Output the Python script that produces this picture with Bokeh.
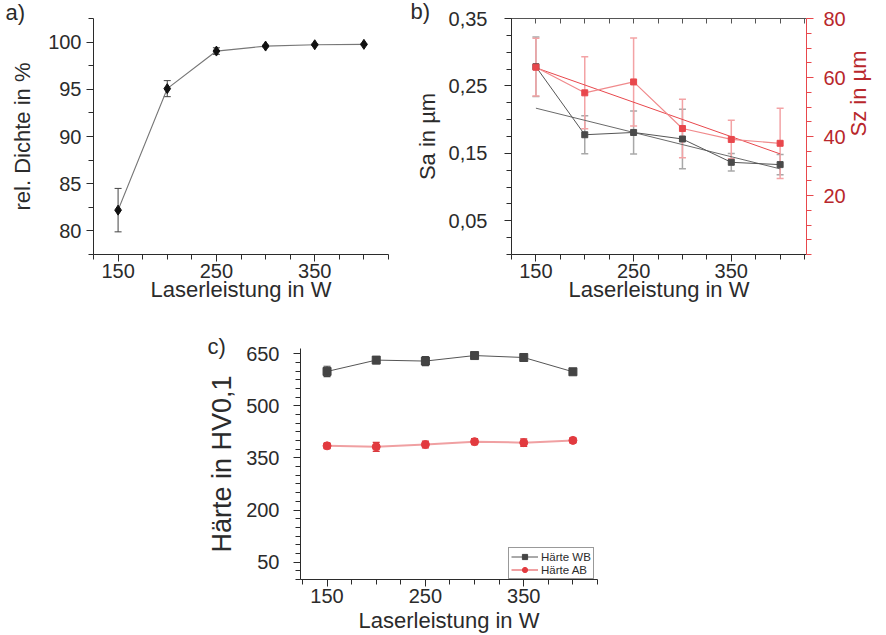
import math
from bokeh.plotting import figure
from bokeh.layouts import column, row, Spacer
from bokeh.models import (Range1d, LinearAxis, FixedTicker, CustomJSTickFormatter,
                          Whisker, TeeHead, ColumnDataSource, Title, Legend, LegendItem)
from bokeh.embed import file_html
from bokeh.resources import INLINE

FONT = "Liberation Sans"

# ---------------- data ----------------
power = [150, 200, 250, 300, 350, 400]

dichte = [82.2, 95.07, 99.05, 99.58, 99.72, 99.76]
dichte_err = [2.3, 0.85, 0.35, 0.1, 0.08, 0.05]

sa = [0.2785, 0.1776, 0.181, 0.1713, 0.1367, 0.1333]
sa_err = [0.044, 0.028, 0.032, 0.044, 0.013, 0.015]
sz = [63.5, 54.8, 58.5, 42.7, 39.0, 37.7]
sz_err = [9.8, 12.2, 14.9, 9.9, 6.5, 11.9]
fit_x = [150, 400]
sa_fit = [0.217, 0.127]
sz_fit = [63.3, 34.1]

haerte_wb = [598.9, 631.6, 628.8, 644.7, 639.1, 598.0]
haerte_wb_err = [15, 10, 13, 5, 10, 8]
haerte_ab = [384.8, 382.0, 388.5, 396.9, 394.0, 400.5]
haerte_ab_err = [8, 13, 10, 9, 11, 7]

# tick positions
x_major = [150, 250, 350]
x_minor = [125, 175, 200, 225, 275, 300, 325, 375, 400, 425]

a_major = [80, 85, 90, 95, 100]
a_minor = [77.5, 82.5, 87.5, 92.5, 97.5, 102.5]

b_major = [0.05, 0.15, 0.25, 0.35]
b_minor = [0.0, 0.025, 0.075, 0.1, 0.125, 0.175, 0.2, 0.225, 0.275, 0.3, 0.325]
bz_major = [20, 40, 60, 80]
bz_minor = [0, 5, 10, 15, 25, 30, 35, 45, 50, 55, 65, 70, 75]

c_major = [50, 200, 350, 500, 650]
c_minor = [0, 25, 75, 100, 125, 150, 175, 225, 250, 275, 300, 325, 375, 400,
           425, 450, 475, 525, 550, 575, 600, 625]

DARK = "#2b2b2b"
RED_TXT = "#B8272C"
RED_LINE = "#E8474C"
RED_LIGHT = "#F3A3A5"


def style_axis(ax, line_color=DARK, label_color=DARK):
    ax.axis_line_color = line_color
    ax.major_tick_line_color = line_color
    ax.minor_tick_line_color = line_color
    ax.major_label_text_font = FONT
    ax.major_label_text_font_size = "20px"
    ax.major_label_text_color = label_color
    ax.axis_label_text_font = FONT
    ax.axis_label_text_font_size = "22px"
    ax.axis_label_text_font_style = "normal"
    ax.axis_label_text_color = label_color
    ax.major_tick_out = 7
    ax.major_tick_in = 0
    ax.minor_tick_out = 5
    ax.minor_tick_in = 0
    ax.major_label_standoff = 2
    ax.axis_label_standoff = 2


def base_fig(w, h, xr, yr, bl, br, bt, bb, label, offset, standoff):
    title = Title(text=label, align="left", offset=offset, standoff=standoff,
                  text_font=FONT, text_font_size="22px", text_font_style="normal",
                  text_color=DARK)
    p = figure(width=w, height=h, x_range=Range1d(*xr), y_range=Range1d(*yr),
               output_backend="svg", toolbar_location=None, title=title,
               min_border_left=bl, min_border_right=br, min_border_top=bt,
               min_border_bottom=bb)
    p.xgrid.visible = False
    p.ygrid.visible = False
    p.outline_line_color = None
    p.background_fill_color = "white"
    p.border_fill_color = "white"
    p.xaxis.ticker = FixedTicker(ticks=x_major, minor_ticks=x_minor)
    p.xaxis.axis_label = "Laserleistung in W"
    style_axis(p.xaxis[0])
    style_axis(p.yaxis[0])
    return p


def whisker(p, x, y, err, color, size=8, width=1, y_range_name="default"):
    src = ColumnDataSource(dict(x=x, upper=[a + b for a, b in zip(y, err)],
                                lower=[a - b for a, b in zip(y, err)]))
    w = Whisker(base="x", upper="upper", lower="lower", source=src,
                line_color=color, line_width=width,
                upper_head=TeeHead(size=size, line_color=color, line_width=width),
                lower_head=TeeHead(size=size, line_color=color, line_width=width),
                y_range_name=y_range_name)
    p.add_layout(w)


# ---------------- panel a ----------------
pa = base_fig(400, 310, (125, 425), (77.5, 102.5), 93, 12, 18, 54, "a)", -88, -13)
pa.yaxis.ticker = FixedTicker(ticks=a_major, minor_ticks=a_minor)
pa.yaxis.axis_label = "rel. Dichte in %"
pa.yaxis.major_label_standoff = 5
pa.yaxis.axis_label_standoff = 10
pa.xaxis.axis_label_standoff = -4
whisker(pa, power, dichte, dichte_err, "#444444", size=7)
pa.line(power, dichte, line_color="#777777", line_width=1.2)
pa.scatter(power, dichte, marker="diamond", size=10, fill_color="#111111",
           line_color="#111111")

# ---------------- panel b ----------------
pb = base_fig(486, 310, (125, 427), (0, 0.35), 111, 79, 17, 56, "b)", -101, -11)
pb.yaxis.ticker = FixedTicker(ticks=b_major, minor_ticks=b_minor)
pb.yaxis.formatter = CustomJSTickFormatter(code="return tick.toFixed(2).replace('.', ',');")
pb.yaxis.axis_label = "Sa in µm"
pb.yaxis.major_label_standoff = 17
pb.yaxis.axis_label_standoff = 6
pb.xaxis.axis_label_standoff = -4
pb.extra_y_ranges = {"sz": Range1d(0, 80)}
ax_r = LinearAxis(y_range_name="sz", axis_label="Sz in µm",
                  ticker=FixedTicker(ticks=bz_major, minor_ticks=bz_minor))
style_axis(ax_r, line_color=RED_LINE, label_color=RED_TXT)
ax_r.major_label_standoff = 10
ax_r.axis_label_standoff = 10
try:
    ax_r.axis_label_orientation = math.pi / 2
except Exception:
    pass
pb.add_layout(ax_r, "right")
ax_t = LinearAxis(ticker=FixedTicker(ticks=[], minor_ticks=[125] + x_major + x_minor))
style_axis(ax_t, line_color="#555555")
ax_t.major_tick_out = 0
ax_t.minor_tick_out = 0
ax_t.minor_tick_in = 5
ax_t.major_label_standoff = 0
pb.add_layout(ax_t, "above")

whisker(pb, power, sa, sa_err, "#A8A8A8", size=7, width=1.5)
whisker(pb, power, sz, sz_err, RED_LIGHT, size=7, width=1.5, y_range_name="sz")
pb.line(fit_x, sa_fit, line_color="#6a6a6a", line_width=1)
pb.line(power, sa, line_color="#555555", line_width=1)
pb.line(fit_x, sz_fit, y_range_name="sz", line_color=RED_LINE, line_width=1)
pb.line(power, sz, y_range_name="sz", line_color="#F08A8C", line_width=1.2)
pb.scatter(power, sa, marker="square", size=6, fill_color="#4a4a4a",
           line_color="#4a4a4a")
pb.scatter(power, sz, marker="square", size=6, y_range_name="sz",
           fill_color=RED_LINE, line_color=RED_LINE)

# ---------------- panel c ----------------
pc = base_fig(420, 325, (123, 425), (0, 665), 110, 13, 38, 49, "c)", -93, -21)
pc.yaxis.ticker = FixedTicker(ticks=c_major, minor_ticks=c_minor)
pc.yaxis.axis_label = "Härte in HV0,1"
pc.yaxis.axis_label_text_font_size = "27px"
pc.yaxis.major_label_standoff = 14
pc.yaxis.axis_label_standoff = 6
whisker(pc, power, haerte_wb, haerte_wb_err, "#444444", size=7, width=1.2)
whisker(pc, power, haerte_ab, haerte_ab_err, "#D83A3E", size=7, width=1.2)
l_wb = pc.line(power, haerte_wb, line_color="#555555", line_width=1)
s_wb = pc.scatter(power, haerte_wb, marker="square", size=8, fill_color="#444444",
                  line_color="#444444")
l_ab = pc.line(power, haerte_ab, line_color="#F0A0A2", line_width=2)
s_ab = pc.scatter(power, haerte_ab, marker="circle", size=8, fill_color="#E23A3F",
                  line_color="#E23A3F")
legend = Legend(items=[LegendItem(label="Härte WB", renderers=[l_wb, s_wb]),
                       LegendItem(label="Härte AB", renderers=[l_ab, s_ab])],
                location=(208, 0), label_text_font=FONT, label_text_font_size="11.5px",
                label_text_color=DARK, label_height=13, glyph_height=13,
                glyph_width=27, spacing=0, padding=2, margin=0,
                label_standoff=3, border_line_color="#333333", border_line_width=1,
                background_fill_alpha=1.0)
pc.add_layout(legend)

layout = column(row(pa, pb), row(Spacer(width=190, height=325), pc))
open("out.html", "w").write(file_html(layout, INLINE))
